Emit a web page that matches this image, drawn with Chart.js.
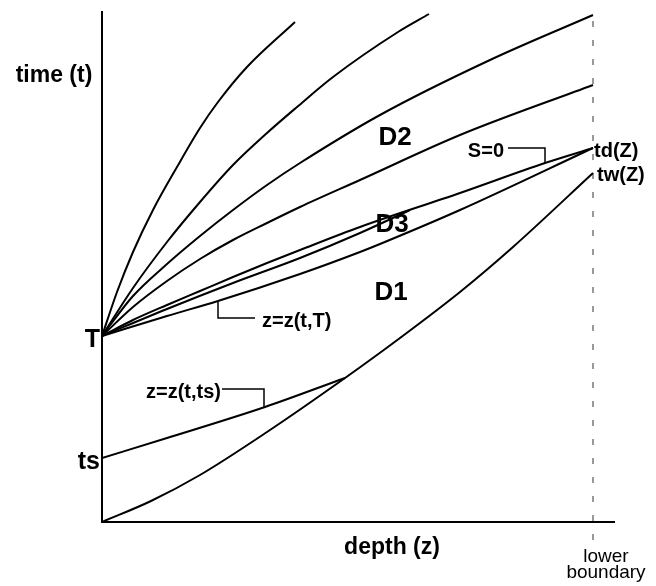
<!DOCTYPE html>
<html>
<head>
<meta charset="utf-8">
<script src="https://cdn.jsdelivr.net/npm/chart.js@4.4.0/dist/chart.umd.min.js"></script>
<style>
  html, body { margin: 0; background: #fff; }
  #wrap { width: 656px; height: 586px; }
</style>
</head>
<body>
<div id="wrap"><canvas id="chart"></canvas></div>
<script>
// depth z and time t (lower boundary Z at 4.91)
const T = 1.86, TS = 0.64, Z = 4.91;

// fan of curves z = z(t, tau) starting at t = T
const zA = [0, 0.15, 0.31, 0.51, 0.75, 0.98, 1.16, 1.45, 1.93];
const tA = [1.86, 2.30, 2.70, 3.12, 3.55, 3.94, 4.20, 4.55, 5.00];
const zB = [0, 0.31, 0.65, 0.98, 1.31, 1.65, 1.95, 2.31, 2.96, 3.27];
const tB = [1.86, 2.34, 2.80, 3.20, 3.57, 3.89, 4.15, 4.45, 4.90, 5.08];
const zC = [0, 0.31, 0.65, 0.98, 1.31, 1.65, 1.98, 2.78, 3.88, 4.91];
const tC = [1.86, 2.26, 2.58, 2.86, 3.12, 3.37, 3.59, 4.07, 4.62, 5.07];
const zD = [0, 0.31, 0.65, 0.98, 1.31, 1.65, 1.98, 2.58, 3.58, 4.91];
const tD = [1.86, 2.15, 2.41, 2.63, 2.82, 2.99, 3.15, 3.42, 3.87, 4.37];
// S=0 curve, ends at td(Z)
const zS = [0, 0.31, 0.65, 0.98, 1.31, 1.65, 1.98, 2.58, 3.58, 4.43, 4.91];
const tS = [1.86, 2.02, 2.17, 2.31, 2.45, 2.59, 2.72, 2.95, 3.29, 3.59, 3.74];
// curve merging into S=0 inside D3
const zM = [0, 0.65, 1.31, 1.98, 2.58, 3.08];
const tM = [1.86, 2.13, 2.39, 2.64, 2.89, 3.12];
// z = z(t, T)
const zF = [0, 0.65, 1.16, 1.98, 2.58, 2.78, 3.58, 4.91];
const tF = [1.86, 2.06, 2.21, 2.48, 2.70, 2.78, 3.12, 3.74];
// tw curve from the origin
const zW = [0, 0.49, 0.98, 1.65, 2.43, 2.98, 3.58, 4.11, 4.91];
const tW = [0, 0.21, 0.47, 0.90, 1.44, 1.84, 2.30, 2.75, 3.49];
// z = z(t, ts)
const zTs = [0, 0.65, 1.63, 2.43];
const tTs = [0.64, 0.84, 1.15, 1.44];
// lower boundary
const zBound = [Z, Z];
const tBound = [-0.18, 5.07];

const yTicks = [TS, T];
const yTickLabels = ['ts', 'T'];
const regionNames = ['D1', 'D2', 'D3'];

const FONT = "'Liberation Sans', Arial, sans-serif";
const pts = (zs, ts) => zs.map((z, i) => ({ x: z, y: ts[i] }));
const curve = (zs, ts) => ({
  data: pts(zs, ts),
  showLine: true,
  pointRadius: 0,
  borderColor: '#000',
  borderWidth: 2,
  cubicInterpolationMode: 'monotone',
});
const noPad = (s) => { s.paddingLeft = s.paddingRight = s.paddingTop = s.paddingBottom = 0; };

const notes = {
  id: 'notes',
  afterDatasetsDraw(chart) {
    const { ctx, chartArea: a, scales: { x, y } } = chart;
    const px = (z, t) => [x.getPixelForValue(z), y.getPixelForValue(t)];
    ctx.save();
    ctx.fillStyle = '#000';
    ctx.strokeStyle = '#000';
    ctx.lineWidth = 1.5;
    ctx.textBaseline = 'middle';

    const leader = (list) => {
      ctx.beginPath();
      list.forEach(([z, t], i) => {
        const [X, Y] = px(z, t);
        i ? ctx.lineTo(X, Y) : ctx.moveTo(X, Y);
      });
      ctx.stroke();
    };
    const text = (s, X, Y, size, align = 'center') => {
      ctx.font = `bold ${size}px ${FONT}`;
      ctx.textAlign = align;
      ctx.fillText(s, X, Y);
    };

    leader([[1.16, 2.20], [1.16, 2.04], [1.53, 2.04]]);
    leader([[1.20, 1.33], [1.62, 1.33], [1.62, 1.15]]);
    leader([[4.06, 3.74], [4.43, 3.74], [4.43, 3.59]]);

    text('z=z(t,T)', ...px(1.60, 2.01), 20, 'left');
    text('z=z(t,ts)', ...px(1.19, 1.30), 20, 'right');
    text('S=0', ...px(4.02, 3.71), 20, 'right');
    text('td(Z)', ...px(4.92, 3.71), 20, 'left');
    text('tw(Z)', ...px(4.95, 3.47), 20, 'left');

    text(regionNames[1], ...px(2.93, 3.84), 26);
    text(regionNames[2], ...px(2.90, 2.97), 26);
    text(regionNames[0], ...px(2.89, 2.29), 26);

    text('time (t)', a.left - 48, y.getPixelForValue(4.46), 23);
    text('depth (z)', x.getPixelForValue(2.90), a.bottom + 26, 23);
    ctx.restore();
  },
};

new Chart(document.getElementById('chart'), {
  type: 'scatter',
  data: {
    datasets: [
      curve(zA, tA),
      curve(zB, tB),
      curve(zC, tC),
      curve(zD, tD),
      curve(zS, tS),
      curve(zM, tM),
      curve(zF, tF),
      curve(zW, tW),
      curve(zTs, tTs),
      {
        data: pts(zBound, tBound),
        showLine: true,
        pointRadius: 0,
        borderColor: '#333',
        borderWidth: 1,
        borderDash: [6, 13],
        clip: false,
      },
    ],
  },
  options: {
    responsive: true,
    maintainAspectRatio: false,
    animation: false,
    layout: { padding: { left: 0, right: 42, top: 12, bottom: 0 } },
    plugins: { legend: { display: false }, tooltip: { enabled: false } },
    scales: {
      x: {
        type: 'linear',
        min: 0,
        max: 5.12,
        afterBuildTicks: (s) => { s.ticks = [{ value: Z }]; },
        afterFit: (s) => { s.height = 64; noPad(s); },
        ticks: {
          callback: () => ['lower', 'boundary'],
          color: '#000',
          font: { family: FONT, size: 19, lineHeight: 0.85 },
          padding: 27,
          labelOffset: 13,
          maxRotation: 0,
          autoSkip: false,
        },
        grid: { display: false, drawTicks: false },
        border: { display: true, color: '#000', width: 2 },
      },
      y: {
        type: 'linear',
        min: 0,
        max: 5.10,
        afterBuildTicks: (s) => { s.ticks = yTicks.map((v) => ({ value: v })); },
        afterFit: (s) => { s.width = 102; noPad(s); },
        ticks: {
          callback: (v) => yTickLabels[yTicks.indexOf(v)],
          color: '#000',
          font: { family: FONT, size: 25, weight: 'bold' },
          padding: 2,
          labelOffset: 4,
          autoSkip: false,
        },
        grid: { display: false, drawTicks: false },
        border: { display: true, color: '#000', width: 2 },
      },
    },
  },
  plugins: [notes],
});
</script>
</body>
</html>
